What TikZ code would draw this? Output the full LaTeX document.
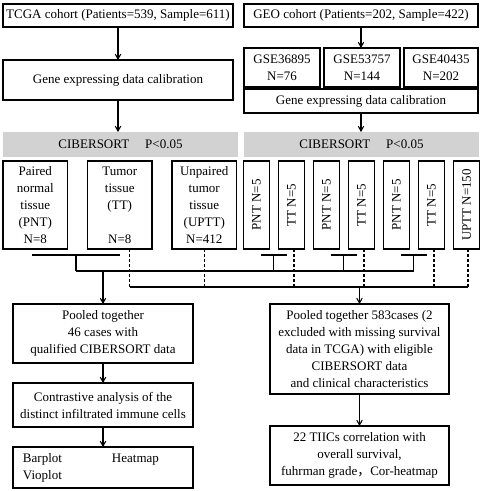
\documentclass[tikz,border=0pt]{standalone}
\usepackage{graphicx}
\usepackage{fontspec}
\setmainfont{Liberation Serif}
\newfontfamily\cjk{Noto Sans CJK SC}
\usetikzlibrary{arrows}
\usetikzlibrary{calc}
\usetikzlibrary{positioning}
\tikzset{
  >=angle 60,
  box/.style = {draw, line width=1.2pt, inner sep=1pt, outer sep=0pt, align=center,
                font=\fontsize{13}{17}\selectfont},
  band/.style = {fill=gray!35, inner sep=0pt, outer sep=0pt, minimum height=25pt,
                 font=\fontsize{13}{17}\selectfont},
  tall/.style = {box, minimum width=64.5pt, minimum height=88pt},
  slim/.style = {box, minimum width=25.5pt, minimum height=88pt},
  link/.style = {line width=1.1pt},
  drop/.style = {line width=1.1pt, dash pattern=on 3pt off 2pt},
}

\begin{document}
\begin{tikzpicture}[x=1pt, y=-1pt]
  \useasboundingbox (0,0) rectangle (482,491);
  % TCGA column
  \node [box, minimum width=230pt, minimum height=23pt] (tcga) at (118,15.5) {TCGA cohort (Patients=539, Sample=611)};
  \node [box, minimum width=230pt, minimum height=40pt] (calib1) at (118,80) {Gene expressing data calibration};
  \node [band, minimum width=235pt] (cib1) at (120.5,144.5) {CIBERSORT\hspace{16pt}P<0.05};
  \node [tall] (pnt) at (35.25,205) {Paired\\normal\\tissue\\(PNT)\\N=8};
  \node [tall, right = 20pt of pnt] (tt) {Tumor\\tissue\\(TT)\\\mbox{}\\N=8};
  \node [tall, right = 20pt of tt] (uptt) {Unpaired\\tumor\\tissue\\(UPTT)\\N=412};
  % GEO column
  \node [box, minimum width=234pt, minimum height=23pt] (geo) at (361,15.5) {GEO cohort (Patients=202, Sample=422)};
  \node [box, minimum width=76pt, minimum height=39pt] (gse1) at (282,67.5) {GSE36895\\N=76};
  \node [box, minimum width=76pt, minimum height=39pt, right = 4pt of gse1] (gse2) {GSE53757\\N=144};
  \node [box, minimum width=74pt, minimum height=39pt, right = 4pt of gse2] (gse3) {GSE40435\\N=202};
  \node [box, minimum width=234pt, minimum height=24pt] (calib2) at (361,101) {Gene expressing data calibration};
  \node [band, minimum width=235pt] (cib2) at (361.5,144.5) {CIBERSORT\hspace{16pt}P<0.05};
  \node [slim] (g1) at (256.5,205) {\rotatebox{90}{PNT N=5}};
  \node [slim, right = 9.5pt of g1] (g2) {\rotatebox{90}{TT N=5}};
  \node [slim, right = 9.5pt of g2] (g3) {\rotatebox{90}{PNT N=5}};
  \node [slim, right = 9.5pt of g3] (g4) {\rotatebox{90}{TT N=5}};
  \node [slim, right = 9.5pt of g4] (g5) {\rotatebox{90}{PNT N=5}};
  \node [slim, right = 9.5pt of g5] (g6) {\rotatebox{90}{TT N=5}};
  \node [slim, right = 9.5pt of g6] (g7) {\rotatebox{90}{UPTT N=150}};
  % pooled analyses
  \node [box, minimum width=180pt, minimum height=59pt] (pool1) at (103,333.5) {Pooled together\\46 cases with\\qualified CIBERSORT data};
  \node [box, minimum width=180pt, minimum height=44pt] (contrast) at (103,405) {Contrastive analysis of the\\distinct infiltrated immune cells};
  \node [box, minimum width=180pt, minimum height=41pt, text width=160pt, align=left] (plots) at (103,467.5) {Barplot\hspace{50pt}Heatmap\\Vioplot};
  \node [box, minimum width=179pt, minimum height=90pt] (pool2) at (359.5,349) {Pooled together 583cases (2\\excluded with missing survival\\data in TCGA) with eligible\\CIBERSORT data\\and clinical characteristics};
  \node [box, minimum width=179pt, minimum height=59pt] (tiics) at (359.5,455.5) {22 TIICs correlation with\\overall survival,\\fuhrman grade{\cjk ，}Cor-heatmap};

  \draw [link, ->] (tcga) -- (calib1);
  \draw [link, ->] (calib1) -- (calib1.south |- cib1.north);
  \draw [link, ->] (geo.south) -- (geo.south |- gse2.north);
  \draw [link, ->] (calib2.south) -- (calib2.south |- cib2.north);
  \draw [link, ->] (pool1) -- (contrast);
  \draw [link, ->] (contrast) -- (plots);
  \draw [link, ->] (pool2) -- (tiics);

  % PNT with TT pairs
  \coordinate (busA) at (0,271);
  \coordinate (busB) at (0,287);
  \draw [link] ([xshift=-3pt, yshift=-6pt]pnt.south) coordinate (p0) -- ([yshift=-6pt]tt.south) coordinate (q0);
  \draw [link] ([xshift=4pt, yshift=-6pt]g1.south) coordinate (p1) -- ([xshift=-5pt, yshift=-6pt]g2.south) coordinate (q1);
  \draw [link] ([xshift=4pt, yshift=-6pt]g3.south) coordinate (p2) -- ([xshift=-5pt, yshift=-6pt]g4.south) coordinate (q2);
  \draw [link] ([xshift=4pt, yshift=-6pt]g5.south) coordinate (p3) -- ([xshift=-5pt, yshift=-6pt]g6.south) coordinate (q3);
  \draw [link] ($(p0)!.5!(q0)$) coordinate (m0) -- (m0 |- busA);
  \draw [link] ($(p1)!.5!(q1)$) coordinate (m1) -- (m1 |- busA);
  \draw [link] ($(p2)!.5!(q2)$) coordinate (m2) -- (m2 |- busA);
  \draw [link] ($(p3)!.5!(q3)$) coordinate (m3) -- (m3 |- busA);
  \draw [link] (m0 |- busA) -- (m3 |- busA);
  \draw [link, ->] (pool1.north |- busA) -- (pool1.north);

  % TT and UPTT
  \draw [drop] ([xshift=10pt]tt.south) coordinate (d0) -- (d0 |- busB);
  \draw [drop] (uptt.south) -- (uptt.south |- busB);
  \draw [drop] ([xshift=2.5pt]g2.south) coordinate (d1) -- (d1 |- busB);
  \draw [drop] ([xshift=2.5pt]g4.south) coordinate (d2) -- (d2 |- busB);
  \draw [drop] ([xshift=2.5pt]g6.south) coordinate (d3) -- (d3 |- busB);
  \draw [drop] ([xshift=1.5pt]g7.south) coordinate (d4) -- (d4 |- busB);
  \draw [link] (d0 |- busB) -- (d4 |- busB);
  \draw [link, ->] (pool2.north |- busB) -- (pool2.north);
\end{tikzpicture}
\end{document}
